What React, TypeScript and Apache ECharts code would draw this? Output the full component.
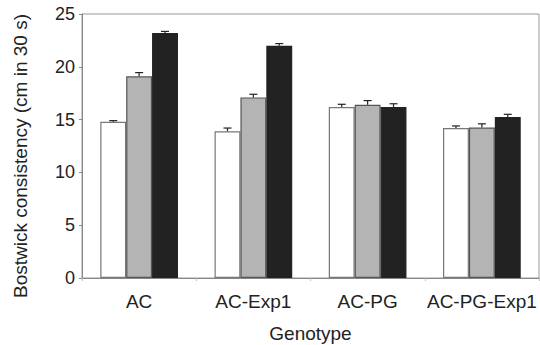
import React, { useEffect, useRef } from "react";
import * as echarts from "echarts";

const categories = ["AC", "AC-Exp1", "AC-PG", "AC-PG-Exp1"];
const seriesA = [14.8, 13.9, 16.2, 14.2];
const seriesB = [19.1, 17.1, 16.4, 14.25];
const seriesC = [23.2, 22.0, 16.2, 15.25];
const errA = [0.1, 0.3, 0.25, 0.2];
const errB = [0.35, 0.3, 0.4, 0.35];
const errC = [0.15, 0.2, 0.3, 0.25];
const yTicks = [0, 5, 10, 15, 20, 25];

const CAT_GAP = 0.32;

export default function App() {
  const ref = useRef<HTMLDivElement>(null);
  useEffect(() => {
    if (!ref.current) return;
    const chart = echarts.init(ref.current, null, { renderer: "svg" });
    const vals = [seriesA, seriesB, seriesC];
    const errs = [errA, errB, errC];
    const errData: number[][] = [];
    for (let s = 0; s < 3; s++) {
      for (let i = 0; i < categories.length; i++) {
        errData.push([i, vals[s][i], vals[s][i] + errs[s][i], s]);
      }
    }
    const fills = ["#ffffff", "#b4b4b4", "#222222"];
    const borders = ["#777777", "#555555", "#222222"];
    const font = "Liberation Sans, Arial, sans-serif";
    chart.setOption({
      animation: false,
      grid: {
        left: 82,
        right: 1,
        top: 14,
        bottom: 67,
        containLabel: false,
        outerBoundsMode: "none",
        show: true,
        borderColor: "#999999",
        borderWidth: 1,
        backgroundColor: "transparent",
      },
      xAxis: {
        type: "category",
        data: categories,
        name: "Genotype",
        nameLocation: "middle",
        nameGap: 46,
        nameTextStyle: { fontFamily: font, fontSize: 19, color: "#222" },
        axisLine: { lineStyle: { color: "#888888" } },
        axisTick: { show: true, length: 3, lineStyle: { color: "#bbbbbb" } },
        axisLabel: {
          fontFamily: font,
          fontSize: 19,
          color: "#222",
          margin: 14,
          interval: 0,
          hideOverlap: false,
        },
      },
      yAxis: {
        type: "value",
        min: 0,
        max: 25,
        interval: 5,
        name: "Bostwick consistency (cm in 30 s)",
        nameLocation: "middle",
        nameGap: 52,
        nameTextStyle: { fontFamily: font, fontSize: 19, color: "#222", padding: [0, 0, 0, -20] },
        axisLine: { show: true, lineStyle: { color: "#888888" } },
        axisTick: { show: true, length: 3, lineStyle: { color: "#888888" } },
        axisLabel: {
          fontFamily: font,
          fontSize: 18,
          color: "#222",
          margin: 7,
          formatter: (v: number) => (yTicks.includes(v) ? String(v) : ""),
        },
        splitLine: { show: false },
      },
      series: [
        ...vals.map((d, s) => ({
          type: "bar",
          data: d,
          barGap: "0%",
          barCategoryGap: CAT_GAP * 100 + "%",
          itemStyle: { color: fills[s], borderColor: borders[s], borderWidth: 1.2 },
          z: 2,
        })),
        {
          type: "custom",
          data: errData,
          z: 5,
          renderItem: (params: any, api: any) => {
            const ci = api.value(0);
            const s = api.value(3);
            const catW = api.size([1, 0])[0];
            const groupW = catW * (1 - CAT_GAP);
            const barW = groupW / 3;
            const base = api.coord([ci, api.value(1)]);
            const top = api.coord([ci, api.value(2)]);
            const x = base[0] - groupW / 2 + barW * (s + 0.5);
            const cap = 4;
            const st = { stroke: "#222222", lineWidth: 1.2 };
            return {
              type: "group",
              children: [
                { type: "line", shape: { x1: x, y1: base[1], x2: x, y2: top[1] }, style: st },
                { type: "line", shape: { x1: x - cap, y1: top[1], x2: x + cap, y2: top[1] }, style: st },
              ],
            };
          },
        },
      ],
    });
    return () => chart.dispose();
  }, []);
  return <div ref={ref} style={{ width: 540, height: 345, position: "absolute", left: 0, top: 0, background: "#fff" }} />;
}
